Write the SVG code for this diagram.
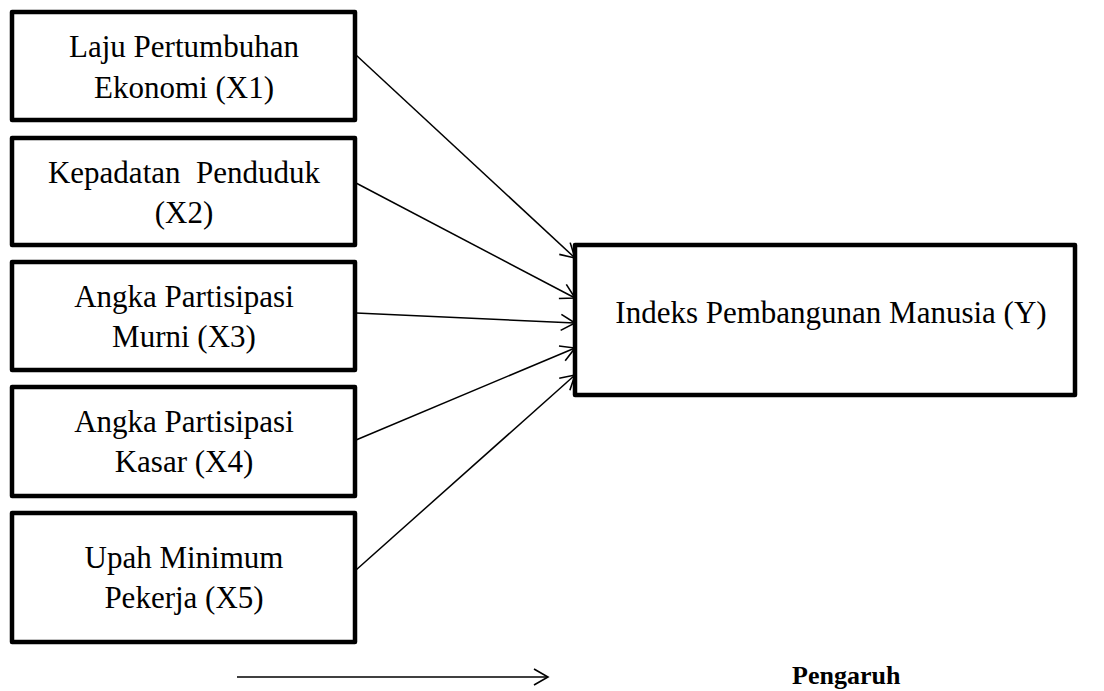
<svg xmlns="http://www.w3.org/2000/svg" width="1104" height="691" viewBox="0 0 1104 691">
<style>
.box{fill:#fff;stroke:#000;stroke-width:4.5;stroke-linejoin:round}
.t{font-family:'Liberation Serif','DejaVu Serif',serif;font-size:31px;fill:#000;text-anchor:middle}
.b{font-family:'Liberation Serif','DejaVu Serif',serif;font-size:26px;font-weight:bold;fill:#000}
.c{stroke:#000;stroke-width:1.5;fill:none}
</style>
<defs>
<marker id="ah" markerUnits="userSpaceOnUse" markerWidth="20" markerHeight="20" viewBox="0 0 20 20" refX="18" refY="10" orient="auto">
<path d="M4,2 L18,10 L4,18" fill="none" stroke="#000" stroke-width="1.6"/>
</marker>
</defs>
<rect width="1104" height="691" fill="#fff"/>
<g id="connectors">
<line class="c" x1="356" y1="55" x2="575" y2="258" marker-end="url(#ah)"/>
<line class="c" x1="356" y1="183" x2="575" y2="298" marker-end="url(#ah)"/>
<line class="c" x1="356" y1="313" x2="575" y2="323" marker-end="url(#ah)"/>
<line class="c" x1="356" y1="440" x2="575" y2="348" marker-end="url(#ah)"/>
<line class="c" x1="356" y1="570" x2="575" y2="375" marker-end="url(#ah)"/>
</g>
<g id="x1">
<rect class="box" x="12" y="12" width="343" height="108"/>
<text class="t" x="184" y="57">Laju Pertumbuhan</text>
<text class="t" x="184" y="98">Ekonomi (X1)</text>
</g>
<g id="x2">
<rect class="box" x="12" y="138" width="343" height="107"/>
<text class="t" x="184" y="183" xml:space="preserve">Kepadatan  Penduduk</text>
<text class="t" x="184" y="223">(X2)</text>
</g>
<g id="x3">
<rect class="box" x="12" y="262" width="343" height="108"/>
<text class="t" x="184" y="307">Angka Partisipasi</text>
<text class="t" x="184" y="347">Murni (X3)</text>
</g>
<g id="x4">
<rect class="box" x="12" y="387" width="343" height="109"/>
<text class="t" x="184" y="432">Angka Partisipasi</text>
<text class="t" x="184" y="472">Kasar (X4)</text>
</g>
<g id="x5">
<rect class="box" x="12" y="513" width="343" height="129"/>
<text class="t" x="184" y="568">Upah Minimum</text>
<text class="t" x="184" y="608">Pekerja (X5)</text>
</g>
<g id="y">
<rect class="box" x="575" y="245" width="500" height="150"/>
<text class="t" x="831" y="323">Indeks Pembangunan Manusia (Y)</text>
</g>
<g id="legend">
<line class="c" x1="237" y1="677" x2="548" y2="677" marker-end="url(#ah)"/>
<text class="b" x="792" y="684">Pengaruh</text>
</g>
</svg>
